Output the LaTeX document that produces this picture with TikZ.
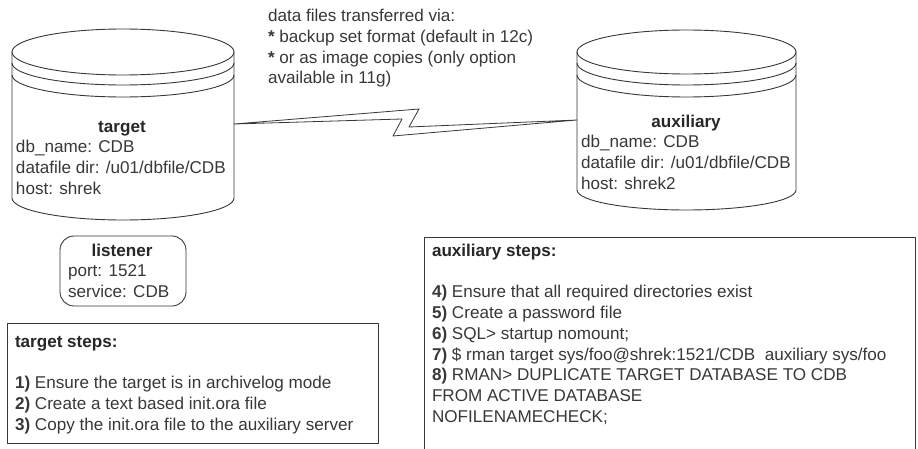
\documentclass[tikz,border=0pt]{standalone}
\usepackage{fontspec}
\setmainfont{Liberation Sans}
\definecolor{ink}{gray}{0.22}
\tikzset{
  shapeline/.style={draw=ink,line width=0.9pt,line join=round},
  txt/.style={anchor=north west,inner sep=0pt,outer sep=0pt,align=left,text=ink,yshift=-1pt,
    font=\fontsize{17.1}{20.7}\selectfont},
  ttl/.style={anchor=north,inner sep=0pt,outer sep=0pt,align=center,text=ink!70!black,yshift=-1pt,
    font=\fontsize{17.1}{20.7}\selectfont\bfseries},
  ttlw/.style={ttl,anchor=north west,align=left},
}
\newcommand{\drumshape}[6]{% cx, rx, ytop-centre, ytop-ry, ybody-end, bottom-ry
  \draw[shapeline] (#1,#3) ellipse [x radius=#2pt,y radius=#4pt];
  \draw[shapeline] (#1-#2,#3) -- (#1-#2,#5) arc [start angle=180,end angle=360,x radius=#2pt,y radius=#6pt] -- (#1+#2,#3);
  \draw[shapeline] (#1-#2,#3+11) arc [start angle=180,end angle=360,x radius=#2pt,y radius=22pt];
  \draw[shapeline] (#1-#2,#3+23) arc [start angle=180,end angle=360,x radius=#2pt,y radius=22pt];
}
\begin{document}
\begin{tikzpicture}[x=1pt,y=-1pt]
\useasboundingbox (0,0) rectangle (918,449);
\fill[white] (0,0) rectangle (918,449);
\drumshape{123}{111}{52}{23}{198}{22}
\drumshape{686.5}{109.5}{52}{22}{190}{20}
\coordinate (linkA) at (234,124);
\coordinate (linkB) at (577,120);
\draw[shapeline,line width=0.8pt] (linkA) -- (419,109) -- (409,127) -- (linkB) -- (393,136) -- (402,119) -- cycle;
\node[txt] (via) at (268,6.2) {\strut data files transferred via:\\\textbf{*} backup set format (default in 12c)\\\textbf{*} or as image copies (only option\\available in 11g)};
\node[ttl] (tgttitle) at (122,117.2) {\strut target};
\node[txt] (tgtinfo) at (16,137.2) {\strut db\_name: CDB\\datafile dir: /u01/dbfile/CDB\\host: shrek};
\node[ttl] (auxtitle) at (686,112.2) {\strut auxiliary};
\node[txt] (auxinfo) at (581,132.5) {\strut db\_name: CDB\\datafile dir: /u01/dbfile/CDB\\host: shrek2};
\draw[shapeline] (60,250) arc [start angle=180,end angle=90,radius=14pt] -- (172,236) arc [start angle=90,end angle=0,radius=14pt] -- (186,292) arc [start angle=0,end angle=-90,radius=14pt] -- (74,306) arc [start angle=-90,end angle=-180,radius=14pt] -- cycle;
\node[ttl] (lsntitle) at (122,241.2) {\strut listener};
\node[txt] (lsninfo) at (68,261.5) {\strut port: 1521\\service: CDB};
\draw[shapeline] (7,323) rectangle (378,443);
\node[ttlw] (tsteps) at (15,332.2) {\strut target steps:};
\node[txt] (tlist) at (15,373.2) {\strut\textbf{1)} Ensure the target is in archivelog mode\\\textbf{2)} Create a text based init.ora file\\\textbf{3)} Copy the init.ora file to the auxiliary server};
\draw[shapeline] (424,449) -- (424,237) -- (915,237) -- (915,449);
\node[ttlw] (asteps) at (432,241.2) {\strut auxiliary steps:};
\node[txt] (alist) at (432,282.5) {\strut\textbf{4)} Ensure that all required directories exist\\\textbf{5)} Create a password file\\\textbf{6)} SQL> startup nomount;\\\textbf{7)} \$ rman target sys/foo@shrek:1521/CDB\ \ auxiliary sys/foo\\\textbf{8)} RMAN> DUPLICATE TARGET DATABASE TO CDB\\FROM ACTIVE DATABASE\\NOFILENAMECHECK;};
\end{tikzpicture}
\end{document}
